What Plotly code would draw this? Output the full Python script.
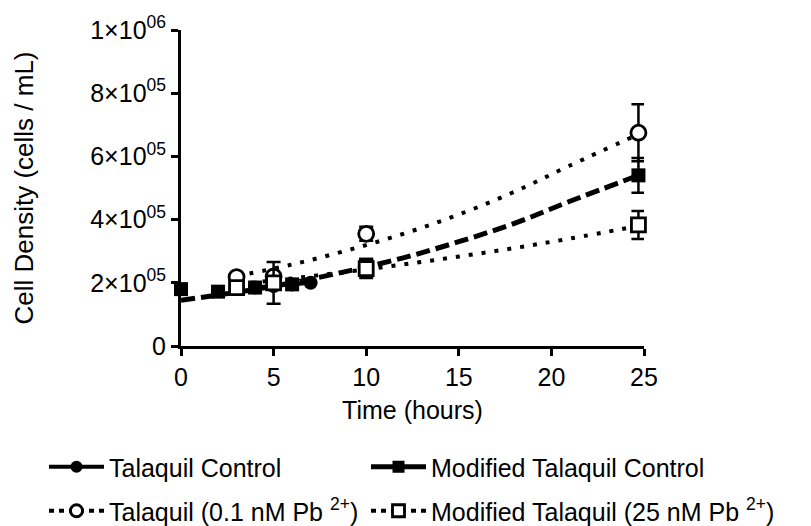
import plotly.graph_objects as go

# ---- data ----
# Talaquil Control (filled circles, solid line)
tc_x = [4, 5, 6, 7]
tc_y = [1.85e5, 1.9e5, 1.95e5, 2.0e5]

# Modified Talaquil Control (filled squares)
mc_x = [0, 2, 4, 6, 10, 24.7]
mc_y = [1.8e5, 1.72e5, 1.85e5, 1.95e5, 2.5e5, 5.4e5]
mc_err = [0.05e5, 0.05e5, 0.05e5, 0.05e5, 0.25e5, 0.55e5]

# Talaquil (0.1 nM Pb2+) (open circles)
tp_x = [3, 5, 10, 24.7]
tp_y = [2.18e5, 2.2e5, 3.55e5, 6.75e5]
tp_err = [0.08e5, 0.05e5, 0.22e5, 0.9e5]

# Modified Talaquil (25 nM Pb2+) (open squares)
mp_x = [3, 5, 10, 24.7]
mp_y = [1.85e5, 2.0e5, 2.45e5, 3.83e5]
mp_err = [0.08e5, 0.66e5, 0.3e5, 0.44e5]

# fitted growth curves
fit_mc_x = [0, 3, 6, 9, 12, 15, 18, 21, 24.7]
fit_mc_y = [1.45e5, 1.70e5, 2.0e5, 2.37e5, 2.79e5, 3.3e5, 3.88e5, 4.58e5, 5.4e5]
fit_tp_x = [3, 6, 9, 12, 15, 18, 21, 24.7]
fit_tp_y = [2.21e5, 2.58e5, 3.03e5, 3.55e5, 4.16e5, 4.88e5, 5.71e5, 6.7e5]
fit_mp_x = [3, 6, 9, 12, 15, 18, 21, 24.7]
fit_mp_y = [1.95e5, 2.14e5, 2.35e5, 2.58e5, 2.83e5, 3.1e5, 3.4e5, 3.8e5]

x_ticks = [0, 5, 10, 15, 20, 25]
y_ticks = [0, 2e5, 4e5, 6e5, 8e5, 1e6]
y_ticktext = ["0", "2×10<sup>05</sup>", "4×10<sup>05</sup>", "6×10<sup>05</sup>",
              "8×10<sup>05</sup>", "1×10<sup>06</sup>"]

names = ["Talaquil Control", "Modified Talaquil Control",
         "Talaquil (0.1 nM Pb <sup>2+</sup>)", "Modified Talaquil (25 nM Pb <sup>2+</sup>)"]

BLACK = "black"
DOT = "4px,9px"
DASH = "14px,6px"
fig = go.Figure()

# fitted curves
fig.add_trace(go.Scatter(x=fit_mc_x, y=fit_mc_y, mode="lines", line_shape="spline",
                         line=dict(color=BLACK, width=5, dash=DASH),
                         showlegend=False, hoverinfo="skip"))
fig.add_trace(go.Scatter(x=fit_tp_x, y=fit_tp_y, mode="lines", line_shape="spline",
                         line=dict(color=BLACK, width=4, dash=DOT),
                         showlegend=False, hoverinfo="skip"))
fig.add_trace(go.Scatter(x=fit_mp_x, y=fit_mp_y, mode="lines", line_shape="spline",
                         line=dict(color=BLACK, width=4, dash=DOT),
                         showlegend=False, hoverinfo="skip"))

err_style = dict(type="data", thickness=2.5, width=7, color=BLACK)

fig.add_trace(go.Scatter(x=tc_x, y=tc_y, mode="lines+markers",
                         line=dict(color=BLACK, width=4),
                         marker=dict(symbol="circle", size=14, color=BLACK),
                         cliponaxis=False, showlegend=False))
fig.add_trace(go.Scatter(x=mc_x, y=mc_y, mode="markers",
                         error_y=dict(array=mc_err, **err_style),
                         marker=dict(symbol="square", size=14, color=BLACK),
                         cliponaxis=False, showlegend=False))
fig.add_trace(go.Scatter(x=tp_x, y=tp_y, mode="markers",
                         error_y=dict(array=tp_err, **err_style),
                         marker=dict(symbol="circle", size=15, color="white",
                                     line=dict(color=BLACK, width=2.8)),
                         cliponaxis=False, showlegend=False))
fig.add_trace(go.Scatter(x=mp_x, y=mp_y, mode="markers",
                         error_y=dict(array=mp_err, **err_style),
                         marker=dict(symbol="square", size=14, color="white",
                                     line=dict(color=BLACK, width=2.8)),
                         cliponaxis=False, showlegend=False))

# legend entries (line + marker swatches), one legend box per entry
legend_specs = [
    (names[0], dict(color=BLACK, width=4), dict(symbol="circle", size=12, color=BLACK)),
    (names[1], dict(color=BLACK, width=5), dict(symbol="square", size=12, color=BLACK)),
    (names[2], dict(color=BLACK, width=4, dash="5px,5px"),
     dict(symbol="circle", size=12, color="white", line=dict(color=BLACK, width=2.8))),
    (names[3], dict(color=BLACK, width=4, dash="5px,5px"),
     dict(symbol="square", size=12, color="white", line=dict(color=BLACK, width=2.8))),
]
legend_ids = ["legend", "legend2", "legend3", "legend4"]
for (nm, ln, mk), lg in zip(legend_specs, legend_ids):
    fig.add_trace(go.Scatter(x=[None], y=[None], mode="lines+markers", name=nm,
                             line=ln, marker=mk, legend=lg, showlegend=True))

font_family = "Arial, Liberation Sans, sans-serif"
axis_common = dict(showline=True, linecolor=BLACK, linewidth=3, ticks="outside",
                   ticklen=7, tickwidth=3, tickcolor=BLACK, showgrid=False,
                   zeroline=False, tickfont=dict(size=25, color=BLACK))

def leg(xpx, ypx):
    return dict(orientation="h", xref="container", x=xpx / 811, xanchor="left",
                yref="container", y=(526 - ypx) / 526, yanchor="middle",
                itemwidth=55, font=dict(size=25, color=BLACK),
                bgcolor="rgba(0,0,0,0)")

fig.update_layout(
    width=811, height=526,
    margin=dict(l=181, r=167, t=27, b=180),
    plot_bgcolor="white", paper_bgcolor="white",
    font=dict(family=font_family, color=BLACK, size=25),
    xaxis=dict(range=[0, 25], tickvals=x_ticks, ticktext=[str(v) for v in x_ticks],
               title=dict(text="Time (hours)", font=dict(size=25), standoff=12),
               **axis_common),
    yaxis=dict(range=[0, 1e6], tickvals=y_ticks, ticktext=y_ticktext,
               title=dict(text="Cell Density (cells / mL)", font=dict(size=26), standoff=50),
               **axis_common),
    legend=leg(44, 467),
    legend2=leg(366, 467),
    legend3=leg(44, 511),
    legend4=leg(366, 511),
)

fig.write_html("out.html")
